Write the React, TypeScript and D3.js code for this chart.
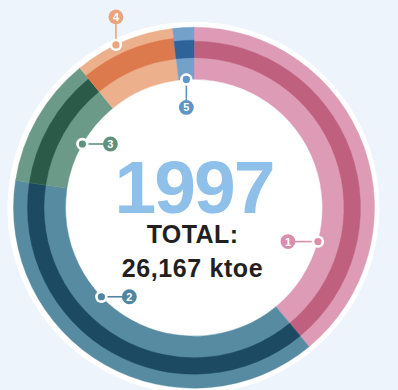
import React from "react";
import * as d3 from "d3";

// Final energy consumption by sector, 1997 (ktoe)
const sectors = ["1", "2", "3", "4", "5"];
const values = [10205, 10050, 3060, 2355, 497];
const year = "1997";
const totalLabel = "TOTAL:";

const lightColors = ["#dd9bb5", "#578ba1", "#6b9a89", "#edb08c", "#73a1c9"];
const darkColors = ["#c0607f", "#1c4a63", "#2c5a48", "#dc794d", "#2e6399"];
const badgeColors = ["#d98fab", "#4f86a0", "#5f917e", "#eaa57f", "#5f96c6"];

// where along each slice its callout sits (0 = slice start, 1 = slice end)
const calloutAt = [0.75, 0.62, 0.5, 0.42, 0.5];
// callout anchored on the inner or the outer edge, and badge direction
const calloutEdge = ["inner", "inner", "inner", "outer", "inner"];
const calloutDir: [number, number][] = [[-30, 0], [28, 0], [28, 0], [0, -28], [0, 28]];

const W = 398;
const H = 390;
const cx = 194;
const cy = 207.7;
const rOuter = 180.5;
const rInner = 128.5;
const rBandOut = [166.5, 166.5, 166.5, 170.5, 167.5];
const rBandIn = 150;

const FONT = "'Liberation Sans', Arial, sans-serif";

export default function App() {
  const total = d3.sum(values);
  const pie = d3
    .pie<number>()
    .sort(null)
    .startAngle(0)
    .endAngle(2 * Math.PI)
    .padAngle(0);
  const arcs = pie(values);
  const arc = d3.arc<any>();
  const fmt = d3.format(",");

  return (
    <svg
      width={W}
      height={H}
      style={{ position: "absolute", left: 0, top: 0, background: "#eef4fc" }}
    >
      <rect width={W} height={H} fill="#eef4fc" />
      <circle cx={cx - 0.5} cy={cy} r={186} fill="#ffffff" />
      <g transform={`translate(${cx},${cy})`}>
        {arcs.map((a, i) => (
          <g key={sectors[i]}>
            <path
              d={arc({ innerRadius: rInner, outerRadius: rOuter, startAngle: a.startAngle, endAngle: a.endAngle }) as string}
              fill={lightColors[i]}
              stroke={lightColors[i]}
              strokeWidth={0.4}
            />
            <path
              d={arc({ innerRadius: rBandIn, outerRadius: rBandOut[i], startAngle: a.startAngle, endAngle: a.endAngle }) as string}
              fill={darkColors[i]}
              stroke={darkColors[i]}
              strokeWidth={0.4}
            />
          </g>
        ))}
        {arcs.map((a, i) => {
          const ang = a.startAngle + (a.endAngle - a.startAngle) * calloutAt[i];
          const r = calloutEdge[i] === "outer" ? rOuter : rInner;
          const mx = r * Math.sin(ang);
          const my = -r * Math.cos(ang);
          const bx = mx + calloutDir[i][0];
          const by = my + calloutDir[i][1];
          return (
            <g key={"c" + i}>
              <line x1={mx} y1={my} x2={bx} y2={by} stroke={badgeColors[i]} strokeWidth={1.6} />
              <circle cx={mx} cy={my} r={6.2} fill="#ffffff" />
              <circle cx={mx} cy={my} r={3.6} fill={badgeColors[i]} />
              <circle cx={bx} cy={by} r={7.4} fill={badgeColors[i]} />
              <text
                x={bx}
                y={by + 4}
                textAnchor="middle"
                fontFamily={FONT}
                fontWeight={700}
                fontSize={11}
                fill="#ffffff"
              >
                {sectors[i]}
              </text>
            </g>
          );
        })}
      </g>
      <text
        x={194}
        y={213}
        textAnchor="middle"
        fontFamily={FONT}
        fontWeight={700}
        fontSize={75}
        letterSpacing={-2}
        fill="#8ec0ea"
      >
        {year}
      </text>
      <text
        x={192.5}
        y={243.3}
        textAnchor="middle"
        fontFamily={FONT}
        fontWeight={700}
        fontSize={25}
        letterSpacing={0.4}
        fill="#231f20"
      >
        {totalLabel}
      </text>
      <text
        x={192.5}
        y={276.7}
        textAnchor="middle"
        fontFamily={FONT}
        fontWeight={700}
        fontSize={25}
        letterSpacing={0.6}
        fill="#231f20"
      >
        {`${fmt(total)} ktoe`}
      </text>
    </svg>
  );
}
